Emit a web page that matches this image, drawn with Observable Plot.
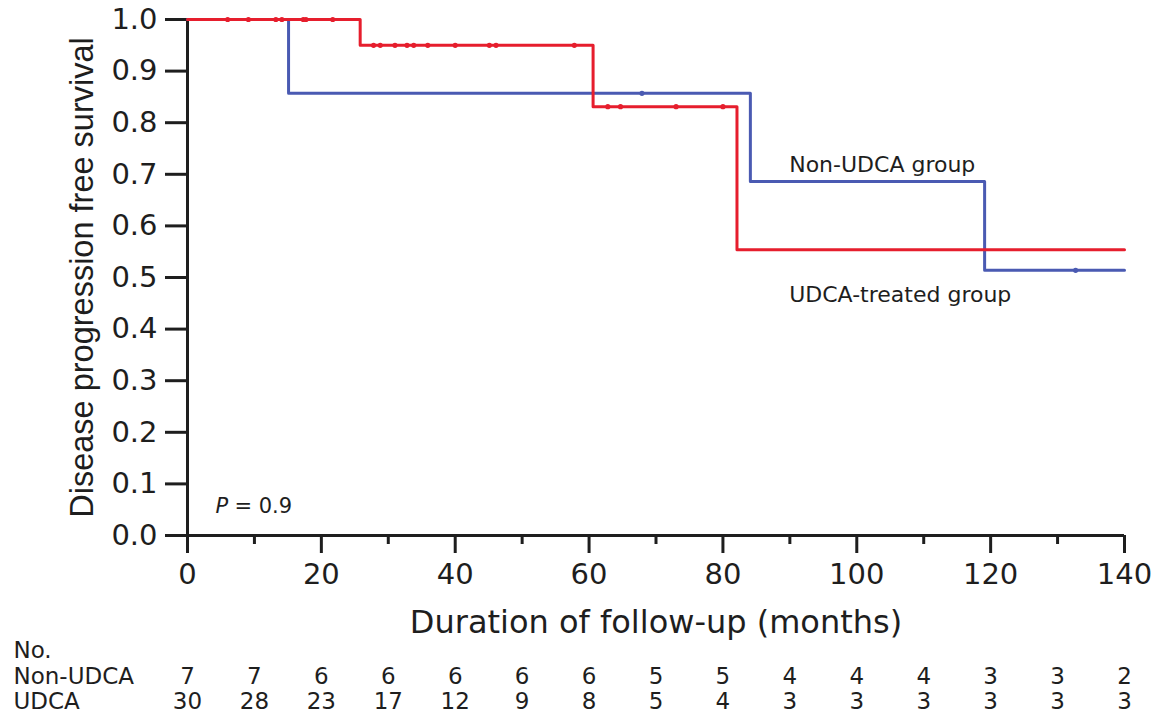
<!DOCTYPE html>
<html>
<head>
<meta charset="utf-8">
<script src="https://cdn.jsdelivr.net/npm/d3@7"></script>
<script src="https://cdn.jsdelivr.net/npm/@observablehq/plot@0.6"></script>
<style>
  html, body { margin: 0; padding: 0; background: #fff; }
  #chart svg { display: block; }
</style>
</head>
<body>
<div id="chart"></div>
<script>
// ---- data ----
const nonTimes = [0, 15.1, 84.1, 119.1, 140];
const nonSurv  = [1, 0.857, 0.686, 0.514, 0.514];
const udcaTimes = [0, 25.8, 60.6, 82.1, 140];
const udcaSurv  = [1, 0.95, 0.831, 0.554, 0.554];

const nonCensorTimes = [67.9, 132.7];
const nonCensorSurv  = [0.857, 0.514];
const udcaCensorTimes = [6.0, 9.1, 13.2, 14.1, 17.3, 17.7, 21.7,
                         27.8, 28.8, 31.0, 32.8, 33.8, 35.9, 40.0, 45.1, 46.1, 57.8,
                         62.8, 64.7, 73.0, 80.0];
const udcaCensorSurv  = [1, 1, 1, 1, 1, 1, 1,
                         0.95, 0.95, 0.95, 0.95, 0.95, 0.95, 0.95, 0.95, 0.95, 0.95,
                         0.831, 0.831, 0.831, 0.831];

const riskTimes = [0, 10, 20, 30, 40, 50, 60, 70, 80, 90, 100, 110, 120, 130, 140];
const riskNon   = [7, 7, 6, 6, 6, 6, 6, 5, 5, 4, 4, 4, 3, 3, 2];
const riskUdca  = [30, 28, 23, 17, 12, 9, 8, 5, 4, 3, 3, 3, 3, 3, 3];
const riskRowLabels = ["No.", "Non-UDCA", "UDCA"];

const xTicks = [0, 20, 40, 60, 80, 100, 120, 140];
const xMinorTicks = [10, 30, 50, 70, 90, 110, 130];
const yTicks = [0, 0.1, 0.2, 0.3, 0.4, 0.5, 0.6, 0.7, 0.8, 0.9, 1.0];

const xLabel = "Duration of follow-up (months)";
const yLabel = "Disease progression free survival";
const groupLabels = ["Non-UDCA group", "UDCA-treated group"];
const pSymbol = "P";
const pValueText = "= 0.9";

// ---- styling ----
const blue = "#4a5ab2";
const red = "#e61e2d";
const ink = "#1e1e1e";
const sans = "'DejaVu Sans', sans-serif";

const nonCurve = nonTimes.map((t, i) => ({t, s: nonSurv[i]}));
const udcaCurve = udcaTimes.map((t, i) => ({t, s: udcaSurv[i]}));
const nonCens = nonCensorTimes.map((t, i) => ({t, s: nonCensorSurv[i]}));
const udcaCens = udcaCensorTimes.map((t, i) => ({t, s: udcaCensorSurv[i]}));

const chart = Plot.plot({
  width: 1155,
  height: 712,
  marginLeft: 187,
  marginRight: 31,
  marginTop: 19,
  marginBottom: 177,
  x: {domain: [0, 140]},
  y: {domain: [0, 1]},
  style: {fontFamily: sans, fontSize: "29px", color: ink, background: "#fff", overflow: "visible"},
  marks: [
    Plot.axisY(yTicks, {tickSize: 22, tickPadding: 8, strokeWidth: 3, tickFormat: d3.format(".1f"), label: null, fontSize: 29}),
    Plot.axisX(xTicks, {tickSize: 18, tickPadding: 10, strokeWidth: 3, tickFormat: d => String(d), label: null, fontSize: 29}),
    Plot.axisX(xMinorTicks, {tickSize: 9, strokeWidth: 3, tickFormat: () => "", label: null}),
    Plot.ruleX([0], {y1: 0, y2: 1, strokeWidth: 3, stroke: ink}),
    Plot.ruleY([0], {x1: 0, x2: 140, strokeWidth: 3, stroke: ink}),

    Plot.line(nonCurve, {x: "t", y: "s", curve: "step-after", stroke: blue, strokeWidth: 3}),
    Plot.dot(nonCens, {x: "t", y: "s", r: 2.6, fill: blue, stroke: null}),
    Plot.line(udcaCurve, {x: "t", y: "s", curve: "step-after", stroke: red, strokeWidth: 3}),
    Plot.dot(udcaCens, {x: "t", y: "s", r: 2.6, fill: red, stroke: null}),

    // group labels
    Plot.text([groupLabels[0]], {x: 89.9, y: 0.705, textAnchor: "start", lineAnchor: "bottom", fontSize: 22, fill: ink}),
    Plot.text([groupLabels[1]], {x: 89.9, y: 0.452, textAnchor: "start", lineAnchor: "bottom", fontSize: 22, fill: ink}),

    // P value
    Plot.text([pSymbol], {x: 4.18, y: 0.043, textAnchor: "start", lineAnchor: "bottom", fontSize: 21, fontStyle: "italic", fill: ink}),
    Plot.text([pValueText], {x: 4.18, y: 0.043, dx: 19, textAnchor: "start", lineAnchor: "bottom", fontSize: 21, fill: ink}),

    // axis titles
    Plot.text([xLabel], {frameAnchor: "bottom", dy: 97, lineAnchor: "bottom", textAnchor: "middle", fontSize: 32, fill: ink}),
    Plot.text([yLabel], {frameAnchor: "left", dx: -95, rotate: -90, lineAnchor: "bottom", textAnchor: "middle",
                         fontFamily: "'Liberation Sans', Arial, sans-serif", fontSize: 32.5, fill: ink}),

    // risk table
    Plot.text([riskRowLabels[0]], {frameAnchor: "bottom-left", dx: -174, dy: 122, textAnchor: "start", lineAnchor: "bottom", fontSize: 23, fill: ink}),
    Plot.text([riskRowLabels[1]], {frameAnchor: "bottom-left", dx: -174, dy: 148, textAnchor: "start", lineAnchor: "bottom", fontSize: 23, fill: ink}),
    Plot.text([riskRowLabels[2]], {frameAnchor: "bottom-left", dx: -174, dy: 173, textAnchor: "start", lineAnchor: "bottom", fontSize: 23, fill: ink}),
    Plot.text(riskNon, {x: (d, i) => riskTimes[i], text: d => String(d), frameAnchor: "bottom", dy: 148, textAnchor: "middle", lineAnchor: "bottom", fontSize: 23, fill: ink}),
    Plot.text(riskUdca, {x: (d, i) => riskTimes[i], text: d => String(d), frameAnchor: "bottom", dy: 173, textAnchor: "middle", lineAnchor: "bottom", fontSize: 23, fill: ink})
  ]
});
document.getElementById("chart").appendChild(chart);
</script>
</body>
</html>
